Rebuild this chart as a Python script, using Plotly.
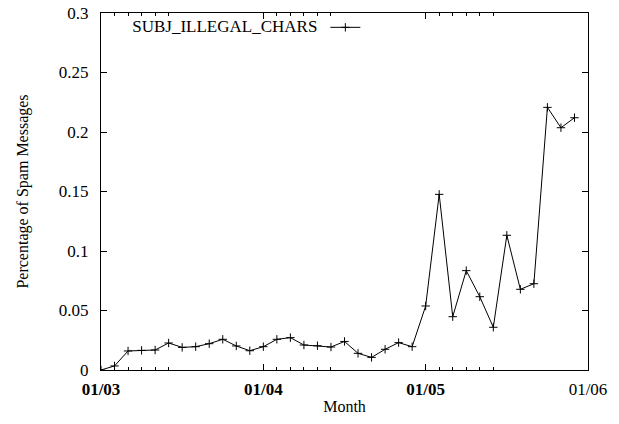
import plotly.graph_objects as go

# weekly-ish sample index (12 per month), starting at 01/03
week_index = list(range(36))
subj_illegal_chars = [
    0.0, 0.0034, 0.0160, 0.0165, 0.0168, 0.0227, 0.0190, 0.0196, 0.0221, 0.0258,
    0.0202, 0.0162, 0.0196, 0.0258, 0.0272, 0.0210, 0.0204, 0.0193, 0.0240, 0.0140,
    0.0106, 0.0174, 0.0230, 0.0196, 0.0538, 0.1476, 0.0448, 0.0835, 0.0616, 0.0359,
    0.1132, 0.0678, 0.0725, 0.2207, 0.2036, 0.2120,
]
month_ticks = [0, 12, 24, 36]
month_labels = ["<b>01/03</b>", "<b>01/04</b>", "<b>01/05</b>", "01/06"]
minor_ticks = [1, 2, 3, 4, 5, 13, 14, 15, 16, 17, 25, 26, 27, 28, 29]
y_ticks = [0, 0.05, 0.1, 0.15, 0.2, 0.25, 0.3]
y_labels = ["0", "0.05", "0.1", "0.15", "0.2", "0.25", "0.3"]

FONT = "Liberation Serif, Times New Roman, Times, serif"

fig = go.Figure()
fig.add_trace(go.Scatter(
    x=week_index, y=subj_illegal_chars, mode="lines+markers", name="",
    line=dict(color="black", width=1),
    marker=dict(symbol="cross-thin", size=6, line=dict(color="black", width=1)),
    showlegend=True,
))
# invisible trace to host the minor tick axis
fig.add_trace(go.Scatter(x=[0, 36], y=[None, None], xaxis="x2", showlegend=False,
                         hoverinfo="skip"))

fig.update_layout(
    width=619, height=424,
    margin=dict(l=101, r=31, t=13, b=54, autoexpand=False),
    paper_bgcolor="white", plot_bgcolor="white",
    font=dict(family=FONT, size=17, color="black"),
    xaxis=dict(
        range=[0, 36], tickvals=month_ticks, ticktext=month_labels,
        ticks="inside", ticklen=6, tickwidth=1, tickcolor="black",
        showline=True, linecolor="black", linewidth=1, mirror="ticks",
        showgrid=False, zeroline=False, ticklabelstandoff=4, automargin=False,
        title=dict(text="Month", font=dict(family=FONT, size=16), standoff=2),
        tickfont=dict(family=FONT, size=17),
    ),
    xaxis2=dict(
        range=[0, 36], overlaying="x", anchor="y", side="bottom",
        tickvals=minor_ticks, ticks="inside", ticklen=3, tickwidth=1,
        tickcolor="black", showticklabels=False, showgrid=False,
        zeroline=False, showline=False, mirror="ticks", automargin=False,
    ),
    yaxis=dict(
        range=[0, 0.3], tickvals=y_ticks, ticktext=y_labels,
        ticks="inside", ticklen=6, tickwidth=1, tickcolor="black",
        showline=True, linecolor="black", linewidth=1, mirror="ticks",
        showgrid=False, zeroline=False, ticklabelstandoff=8, automargin=False,
        title=dict(text="Percentage of Spam Messages",
                   font=dict(family=FONT, size=16), standoff=26),
        tickfont=dict(family=FONT, size=17),
    ),
    legend=dict(
        x=0.06, y=1.009, xanchor="left", yanchor="top",
        bgcolor="rgba(0,0,0,0)", borderwidth=0,
        title=dict(text="SUBJ_ILLEGAL_CHARS", side="left",
                   font=dict(family=FONT, size=17)),
        font=dict(family=FONT, size=17),
        itemwidth=30,
    ),
    hovermode=False,
)

fig.write_html("out.html")
